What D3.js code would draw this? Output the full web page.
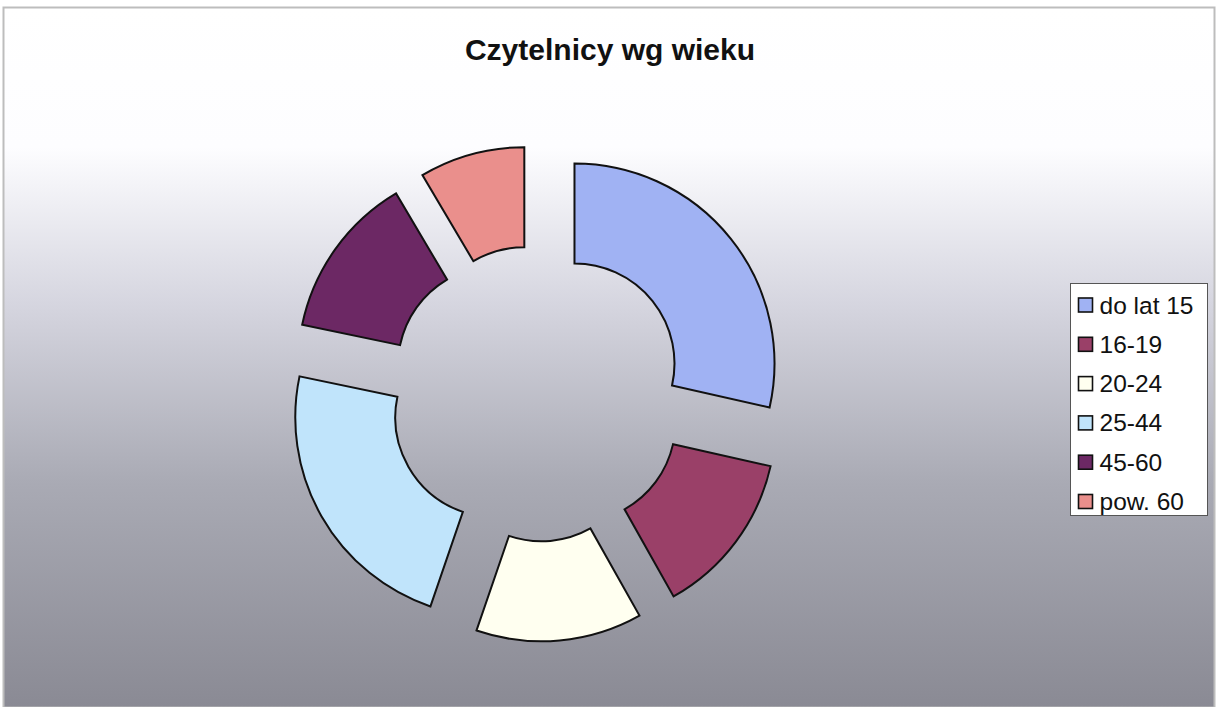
<!DOCTYPE html>
<html>
<head>
<meta charset="utf-8">
<script src="https://cdn.jsdelivr.net/npm/d3@7"></script>
<style>
  body { margin: 0; background: #fff; }
  svg { display: block; font-family: "Liberation Sans", Arial, sans-serif; }
</style>
</head>
<body>
<div id="chart"></div>
<script>
const categories = ["do lat 15", "16-19", "20-24", "25-44", "45-60", "pow. 60"];
const values = [28.5, 13.3, 13.4, 23, 13.2, 8.5];
const colors = ["#a0b2f3", "#9a4068", "#fffff0", "#c0e4fb", "#6c2864", "#ea8f8c"];
const title = "Czytelnicy wg wieku";

const width = 1218;
const height = 707;
const cx = 537;
const cy = 393.5;
const outerRadius = 200;
const innerRadius = 100;
const explode = 48;

const svg = d3.select("#chart")
  .append("svg")
  .attr("width", width)
  .attr("height", height)
  .attr("viewBox", [0, 0, width, height]);

// background fade from white to grey
const grad = svg.append("defs")
  .append("linearGradient")
  .attr("id", "bg")
  .attr("x1", 0).attr("y1", 0).attr("x2", 0).attr("y2", 1);
[[0, "#ffffff"], [0.2, "#fdfdff"], [0.42, "#d6d6e0"], [0.68, "#a9aab4"], [1, "#8a8a94"]]
  .forEach(([o, c]) => grad.append("stop").attr("offset", o).attr("stop-color", c));

svg.append("rect")
  .attr("x", 3.5).attr("y", 7.5)
  .attr("width", width - 7).attr("height", height - 7)
  .attr("fill", "url(#bg)")
  .attr("stroke", "#bdbdbd")
  .attr("stroke-width", 2);

svg.append("text")
  .attr("x", 610)
  .attr("y", 60)
  .attr("text-anchor", "middle")
  .attr("font-size", 30)
  .attr("font-weight", "bold")
  .attr("fill", "#111")
  .text(title);

const data = categories.map((c, i) => ({ name: c, value: values[i], color: colors[i] }));
const pie = d3.pie().sort(null).value((d) => d.value);
const arc = d3.arc().innerRadius(innerRadius).outerRadius(outerRadius);

svg.append("g")
  .attr("transform", `translate(${cx},${cy})`)
  .selectAll("path")
  .data(pie(data))
  .join("path")
  .attr("transform", (d) => {
    const a = (d.startAngle + d.endAngle) / 2;
    return `translate(${explode * Math.sin(a)},${-explode * Math.cos(a)})`;
  })
  .attr("d", arc)
  .attr("fill", (d) => d.data.color)
  .attr("stroke", "#111")
  .attr("stroke-width", 2)
  .attr("stroke-linejoin", "miter");

// legend
const legend = svg.append("g").attr("transform", "translate(1070.5,283.5)");
legend.append("rect")
  .attr("width", 137).attr("height", 232)
  .attr("fill", "#fff")
  .attr("stroke", "#555")
  .attr("stroke-width", 1);

const item = legend.selectAll("g.item")
  .data(data)
  .join("g")
  .attr("class", "item")
  .attr("transform", (d, i) => `translate(8,${21.5 + i * 39.3})`);
item.append("rect")
  .attr("x", 0).attr("y", -7)
  .attr("width", 14).attr("height", 14)
  .attr("fill", (d) => d.color)
  .attr("stroke", "#111")
  .attr("stroke-width", 1.6);
item.append("text")
  .attr("x", 21)
  .attr("y", 8.5)
  .attr("font-size", 24.5)
  .attr("fill", "#111")
  .text((d) => d.name);
</script>
</body>
</html>
